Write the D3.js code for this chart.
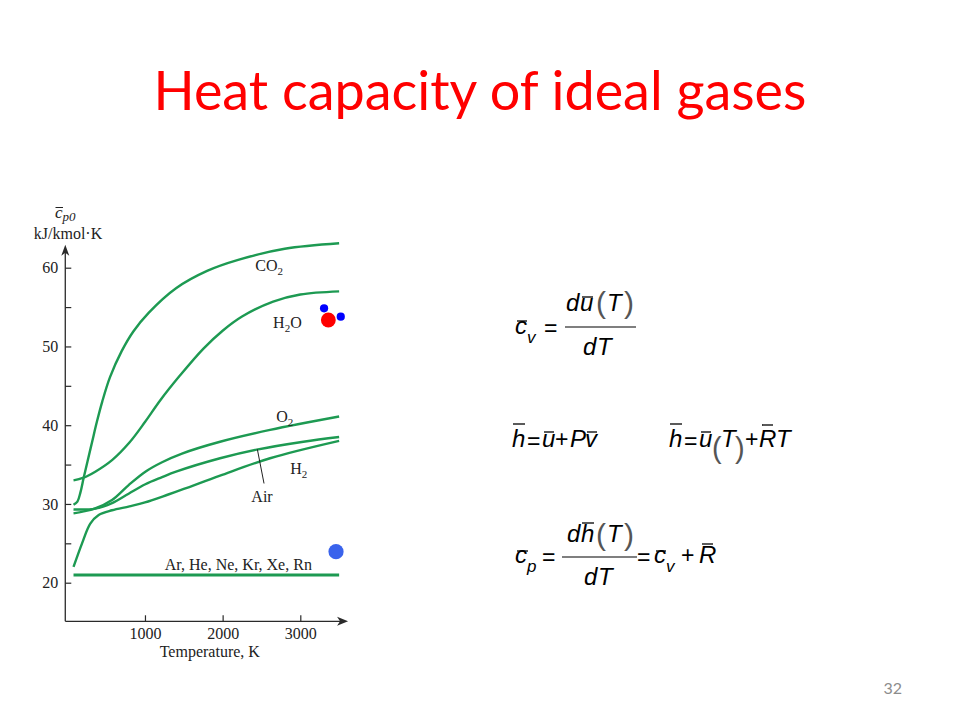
<!DOCTYPE html>
<html><head><meta charset="utf-8">
<script src="https://cdn.jsdelivr.net/npm/d3@7"></script>
<style>body{margin:0;background:#fff}</style>
</head><body><svg id="c" width="960" height="720"></svg>
<script>
// ---------- data (T in K, cp in kJ/kmol·K) ----------
const temperatureTicks = [1000, 2000, 3000];
const cpTicks = [20, 25, 30, 35, 40, 45, 50, 55, 60];
const cpTickLabels = [20, 30, 40, 50, 60];
const co2 = [[80,29.9],[130,30.3],[170,31.5],[210,33.3],[260,35.4],[320,37.9],[380,40.4],[450,43.0],[550,46.1],[700,49.4],[850,51.9],[1050,54.3],[1400,57.4],[1800,59.6],[2200,61.0],[2800,62.4],[3500,63.1]];
const h2o = [[80,33.0],[200,33.3],[360,34.1],[580,35.6],[800,37.8],[1000,40.4],[1200,43.2],[1450,46.3],[1750,49.7],[2000,52.0],[2250,53.8],[2650,55.7],[3000,56.6],[3500,57.0]];
const o2  = [[80,28.8],[350,29.4],[576,30.5],[790,32.4],[1005,34.1],[1220,35.3],[1477,36.4],[1967,37.9],[2611,39.4],[3500,41.1]];
const air = [[80,29.3],[361,29.4],[576,30.1],[790,31.3],[1005,32.5],[1220,33.4],[1400,34.1],[1967,35.8],[2439,36.9],[3040,37.9],[3500,38.5]];
const h2  = [[80,22.0],[190,25.0],[296,27.5],[404,28.6],[576,29.2],[800,29.7],[1000,30.2],[1300,31.2],[1500,31.9],[1967,33.6],[2611,35.8],[3500,38.0]];
const noble = [[80,20.98],[3500,20.98]];
const seriesNames = ["CO2","H2O","O2","Air","H2","Ar, He, Ne, Kr, Xe, Rn"];
const pageNumber = "32";
const titleText = "Heat capacity of ideal gases";

// ---------- setup ----------
const svg = d3.select("#c");
svg.append("rect").attr("width",960).attr("height",720).attr("fill","#fff");

const x = d3.scaleLinear().domain([0,3000]).range([67.3,300.3]);
const y = d3.scaleLinear().domain([20,60]).range([582.7,267.7]);
const xAxisFrom = -26, xAxisTo = 3615, yAxisFrom = 15.1, yAxisTo = 62.9;
const serif = "'Liberation Serif','Times New Roman',serif";
const sans = "'Liberation Sans',Arial,sans-serif";
const axisColor = "#2a2a2a";
const green = "#1d9a52";

// title
const title = svg.append("text").attr("x",480).attr("y",110).attr("text-anchor","middle")
  .attr("fill","#ff0000").style("font-family","Lato, 'Open Sans', sans-serif").style("font-size","50px")
  .text(titleText);
const tl = title.node().getComputedTextLength();
title.style("font-size", (50*653/tl)+"px");

// page number
svg.append("text").attr("x",902).attr("y",694).attr("text-anchor","end").attr("fill","#8c8c8c")
  .style("font-family","Lato, 'Open Sans', sans-serif").style("font-size","16px").text(pageNumber);

// ---------- chart ----------
const g = svg.append("g");
const x0 = x(xAxisFrom), yb = y(yAxisFrom), yt = y(yAxisTo), xr = x(xAxisTo);
g.append("line").attr("x1",x0).attr("x2",x0).attr("y1",yb).attr("y2",yt+4)
  .attr("stroke",axisColor).attr("stroke-width",1.3);
g.append("line").attr("x1",x0).attr("x2",xr-4).attr("y1",yb).attr("y2",yb)
  .attr("stroke",axisColor).attr("stroke-width",1.3);
g.append("path").attr("d",`M${x0},${yt} L${x0-4},${yt+11} L${x0},${yt+8} L${x0+4},${yt+11} Z`).attr("fill",axisColor);
g.append("path").attr("d",`M${xr},${yb} L${xr-11},${yb-4.5} L${xr-8},${yb} L${xr-11},${yb+4.5} Z`).attr("fill",axisColor);

const yAxis = d3.axisLeft(y).tickValues(cpTicks).tickSizeInner(-6).tickSizeOuter(0).tickPadding(7)
  .tickFormat(d => cpTickLabels.includes(d) ? d : "");
const ya = g.append("g").attr("transform",`translate(${x0},0)`).call(yAxis);
ya.select(".domain").remove();
ya.selectAll("line").attr("stroke",axisColor).attr("stroke-width",1.2);
ya.selectAll("text").style("font-family",serif).style("font-size","16px").attr("fill","#222");

const xAxis = d3.axisBottom(x).tickValues(temperatureTicks).tickSizeInner(-6).tickSizeOuter(0).tickPadding(6.5)
  .tickFormat(d3.format("d"));
const xa = g.append("g").attr("transform",`translate(0,${yb})`).call(xAxis);
xa.select(".domain").remove();
xa.selectAll("line").attr("stroke",axisColor).attr("stroke-width",1.2);
xa.selectAll("text").style("font-family",serif).style("font-size","16px").attr("fill","#222");

g.append("text").attr("x",(x(0)+x(3000))/2+26).attr("y",657).attr("text-anchor","middle")
  .style("font-family",serif).style("font-size","16px").attr("fill","#222").text("Temperature, K");

// y label
const yl = g.append("text").attr("x",55).attr("y",218).style("font-family",serif).style("font-size","17px")
  .style("font-style","italic").attr("fill","#222");
yl.append("tspan").text("c");
yl.append("tspan").attr("dy",3).style("font-size","13px").text("p0");
g.append("line").attr("x1",55.5).attr("x2",63).attr("y1",207.5).attr("y2",207.5).attr("stroke","#222").attr("stroke-width",1);
g.append("text").attr("x",68).attr("y",239).attr("text-anchor","middle").style("font-family",serif)
  .style("font-size","16px").attr("fill","#222").text("kJ/kmol\u00b7K");

// curves
const line = d3.line().x(d=>x(d[0])).y(d=>y(d[1])).curve(d3.curveCatmullRom.alpha(0.5));
[co2,h2o,o2,air,h2].forEach(s => {
  g.append("path").attr("d",line(s)).attr("fill","none").attr("stroke",green).attr("stroke-width",2.4);
});
g.append("path").attr("d",line(noble)).attr("fill","none").attr("stroke",green).attr("stroke-width",3);

// curve labels (layout positions in data units)
const labelPos = [[2420,59.6],[2650,52.4],[2690,40.4],[2370,30.2],[2870,33.8],[1255,21.6]];
function chemLabel(name, pos){
  const t = g.append("text").attr("x",x(pos[0])).attr("y",y(pos[1]))
    .style("font-family",serif).style("font-size","16px").attr("fill","#222");
  if (name.includes(",")) { t.text(name); return; }
  const m = name.match(/^([A-Za-z]+?)(\d)?([A-Za-z]*)$/);
  t.append("tspan").text(m[1]);
  if (m[2]) { t.append("tspan").attr("dy",4).style("font-size","11px").text(m[2]);
    if (m[3]) t.append("tspan").attr("dy",-4).text(m[3]); }
  else if (m[3]) t.append("tspan").text(m[3]);
}
seriesNames.forEach((n,i)=>chemLabel(n,labelPos[i]));
g.append("line").attr("x1",x(2447)).attr("y1",y(36.94)).attr("x2",x(2533)).attr("y2",y(32.6))
  .attr("stroke","#222").attr("stroke-width",1);

// molecule / atom markers
const atoms = [[3361,53.36,7.4,"#ff0000"],[3306,54.84,4.1,"#0000ff"],[3521,53.78,4.1,"#0000ff"],[3460,23.94,7.6,"#3a63ec"]];
g.selectAll("circle.atom").data(atoms).enter().append("circle")
  .attr("cx",d=>x(d[0])).attr("cy",d=>y(d[1])).attr("r",d=>d[2]).attr("fill",d=>d[3]);

// ---------- formulas ----------
const F = svg.append("g").attr("fill","#000");
function put(txt, px, py, size=24, italic=true, fill="#000"){
  F.append("text").attr("x",px).attr("y",py).style("font-family",sans).style("font-size",size+"px")
    .style("font-style",italic?"italic":"normal").attr("fill",fill).text(txt);
}
function bar(x1,x2,yy,w=1.3){ F.append("line").attr("x1",x1).attr("x2",x2).attr("y1",yy).attr("y2",yy).attr("stroke","#000").attr("stroke-width",w); }
function paren(ch, px, py, size=30){ put(ch, px, py, size, false, "#555"); }

// c_v = d u(T) / dT
put("c",515,334); bar(517,527,321); put("v",527,343,17);
put("=",544,336,23,false);
bar(565,636,327,1.2);
put("d",566,311); put("u",580,311); bar(582,593,297);
paren("(",596,313); put("T",607,311); paren(")",624,313);
put("d",583,355); put("T",597,355);

// h = u + Pv     h = u(T) + RT
put("h",512,447); bar(513,525,424);
put("=",527,449,23,false);
put("u",542,447); bar(544,554,432);
put("+",555,447,23,false);
put("P",570,447); put("v",585,447); bar(587,597,432);

put("h",669,447); bar(670,682,424);
put("=",684,449,23,false);
put("u",699,447); bar(701,711,432);
paren("(",712,458,29); put("T",721,447); paren(")",735,458,29);
put("+",745,447,23,false);
put("R",759,447); bar(762,773,425);
put("T",776,447);

// c_p = d h(T)/dT = c_v + R
put("c",515,563); bar(517,528,551); put("p",527,572,17);
put("=",542,565,23,false);
bar(562,637,557,1.2);
put("d",567,542); put("h",581,542); bar(582,594,523);
paren("(",596,545); put("T",607,542); paren(")",624,545);
put("d",584,585); put("T",598,585);
put("=",637,565,23,false);
put("c",654,563); bar(656,666,551); put("v",666,572,17);
put("+",681,563,23,false);
put("R",699,563); bar(702,713,544);
</script></body></html>
